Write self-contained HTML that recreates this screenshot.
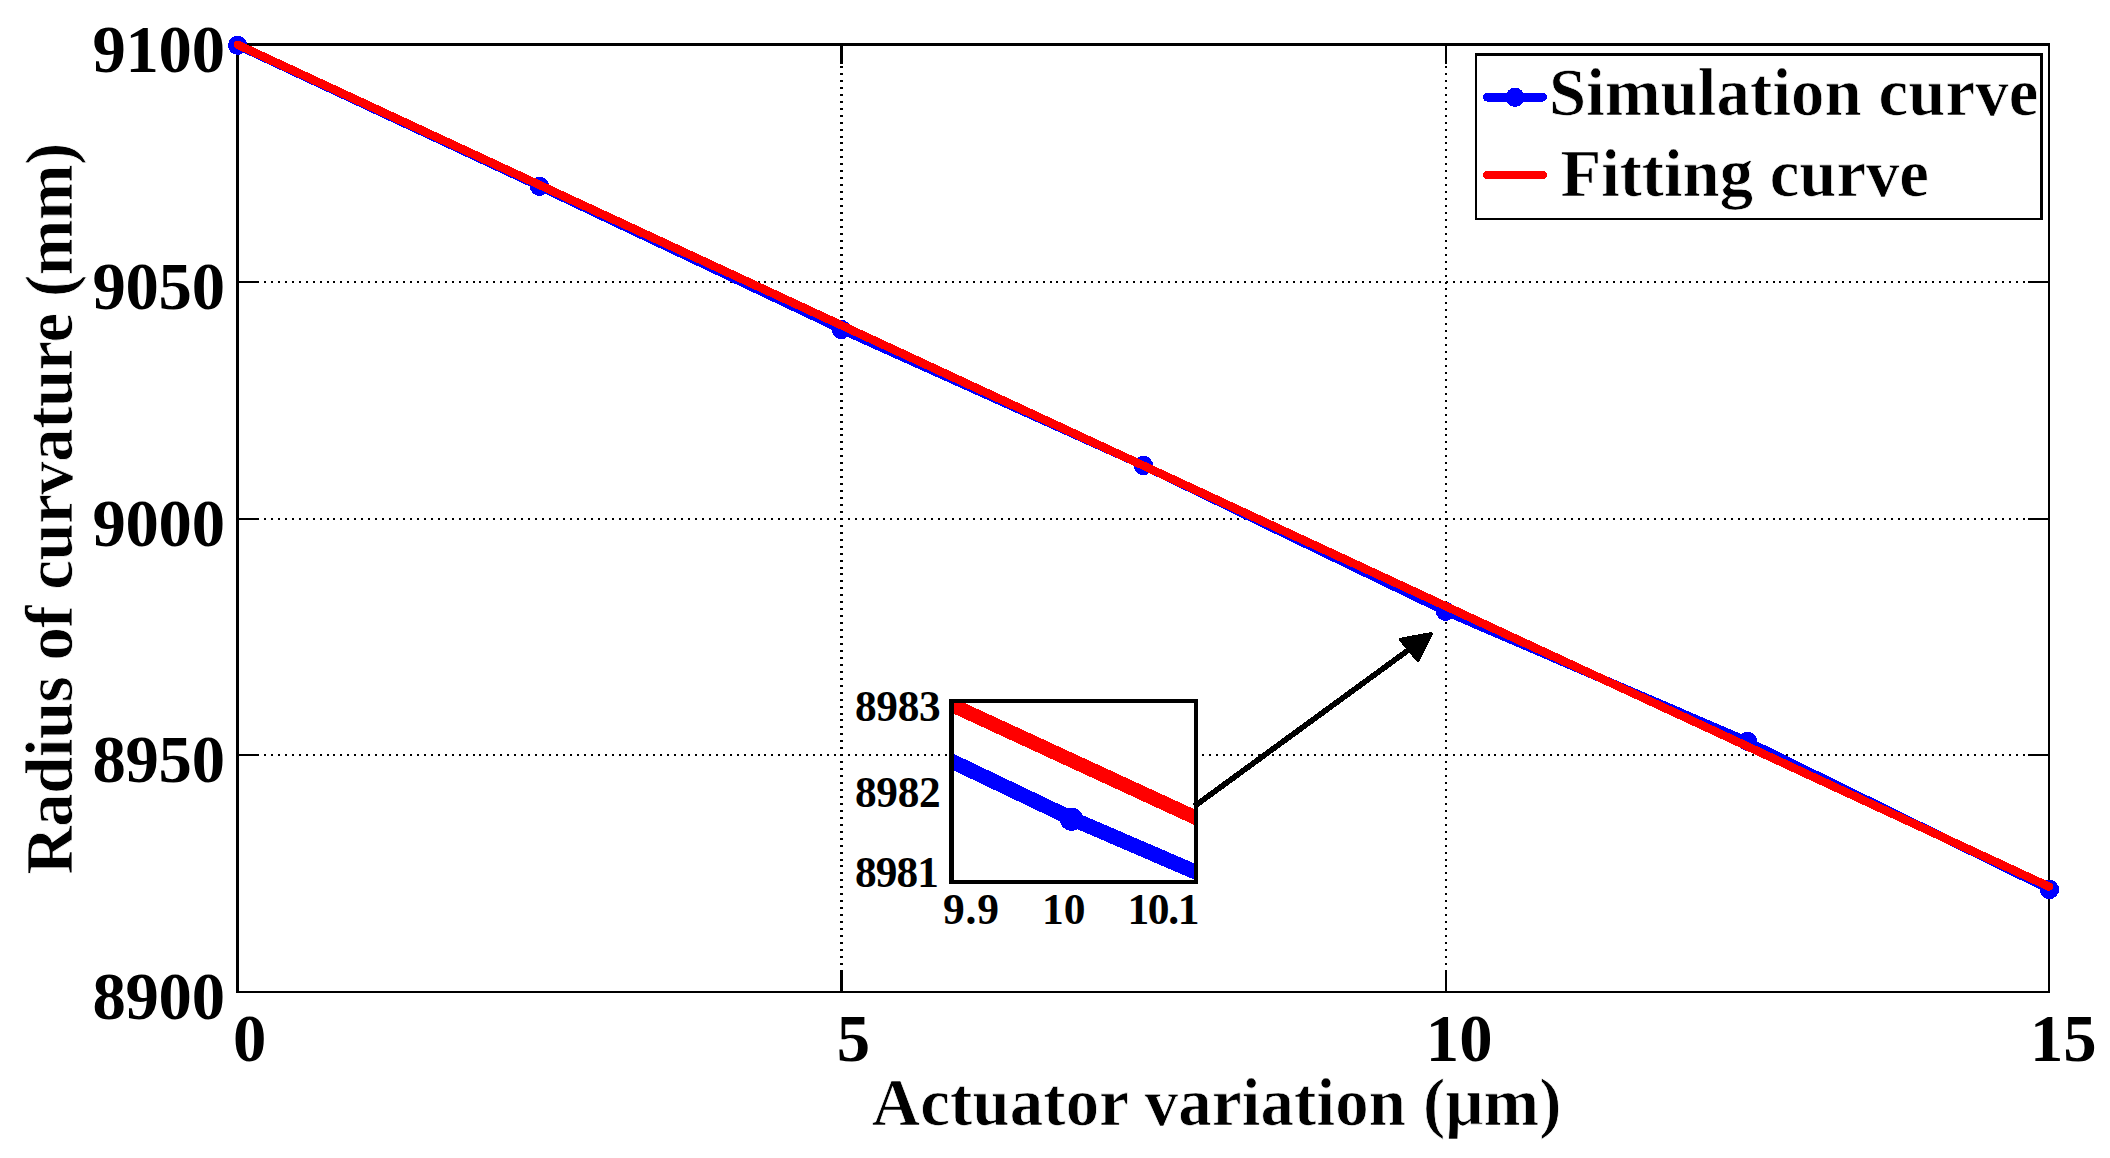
<!DOCTYPE html>
<html lang="en"><head><meta charset="utf-8"><title>Radius of curvature vs actuator variation</title>
<style>
html,body{margin:0;padding:0;background:#fff;}
body{width:2110px;height:1158px;overflow:hidden;}
svg{display:block;}
text{font-family:"Liberation Serif",serif;font-weight:bold;fill:#000;}
.lt{stroke:#fff;stroke-width:0.7;}
.grid{stroke:#000;stroke-dasharray:2 4.952;fill:none;shape-rendering:crispEdges;}
.ax{fill:#000;}
</style></head><body>
<svg width="2110" height="1158" viewBox="0 0 2110 1158">
<rect x="0" y="0" width="2110" height="1158" fill="#fff"/>
<!-- grid -->
<g>
<line x1="841.5" y1="66" x2="841.5" y2="969" class="grid" stroke-width="3"/>
<line x1="1446" y1="66" x2="1446" y2="969" class="grid" stroke-width="2"/>
<line x1="257" y1="282" x2="2027" y2="282" class="grid" stroke-width="2"/>
<line x1="257" y1="519" x2="2027" y2="519" class="grid" stroke-width="2"/>
<line x1="257" y1="755" x2="2027" y2="755" class="grid" stroke-width="2"/>
</g>
<!-- ticks -->
<g class="ax" shape-rendering="crispEdges">
<rect x="840" y="46" width="3" height="18"/><rect x="1445" y="46" width="2" height="18"/>
<rect x="840" y="970" width="3" height="21"/><rect x="1445" y="970" width="2" height="21"/>
<rect x="239" y="281" width="18" height="2"/><rect x="239" y="518" width="18" height="2"/><rect x="239" y="754" width="18" height="2"/>
<rect x="2028" y="281" width="20" height="2"/><rect x="2028" y="518" width="20" height="2"/><rect x="2028" y="754" width="20" height="2"/>
</g>
<!-- main axes box -->
<g class="ax" shape-rendering="crispEdges">
<rect x="236" y="43" width="1814" height="3"/>
<rect x="236" y="43" width="3" height="950"/>
<rect x="2048" y="43" width="2" height="950"/>
<rect x="236" y="991" width="1814" height="2"/>
</g>
<!-- data -->
<g shape-rendering="crispEdges">
<polyline points="237.6,45.3 539.5,186.4 841.4,329.5 1143.5,465.5 1445.5,611.4 1747.5,741.4 2049.5,889.5" fill="none" stroke="#0000ff" stroke-width="8.5" stroke-linejoin="round" stroke-linecap="round"/>
<circle cx="237.6" cy="45.3" r="9.6" fill="#0000ff"/><circle cx="539.5" cy="186.4" r="9.6" fill="#0000ff"/><circle cx="841.4" cy="329.5" r="9.6" fill="#0000ff"/><circle cx="1143.5" cy="465.5" r="9.6" fill="#0000ff"/><circle cx="1445.5" cy="611.4" r="9.6" fill="#0000ff"/><circle cx="1747.5" cy="741.4" r="9.6" fill="#0000ff"/><circle cx="2049.5" cy="889.5" r="9.6" fill="#0000ff"/>
<line x1="237.8" y1="44.7" x2="2049" y2="886.6" stroke="#ff0000" stroke-width="8.4" stroke-linecap="round"/>
<!-- legend -->
<g class="ax" shape-rendering="crispEdges">
<rect x="1475" y="53" width="568" height="167" fill="#fff"/>
<rect x="1475" y="53" width="568" height="3"/>
<rect x="1475" y="53" width="2" height="167"/>
<rect x="2040" y="53" width="3" height="167"/>
<rect x="1475" y="218" width="568" height="2"/>
</g>
<line x1="1487.3" y1="97.2" x2="1542.7" y2="97.2" stroke="#0000ff" stroke-width="8.8" stroke-linecap="round"/>
<circle cx="1515" cy="97.3" r="9.6" fill="#0000ff"/>
<line x1="1487.3" y1="175" x2="1542.7" y2="175" stroke="#ff0000" stroke-width="8.6" stroke-linecap="round"/>
<!-- inset -->
<rect x="949" y="699" width="249" height="185" fill="#fff"/>
<clipPath id="ic"><rect x="954" y="703" width="240" height="177"/></clipPath>
<g clip-path="url(#ic)">
<polyline points="836.5,706.1 954,762.3 1071.5,818.5 1194,871.4 1316.5,924.3" fill="none" stroke="#0000ff" stroke-width="15" stroke-linejoin="round"/>
<circle cx="1071.5" cy="819.3" r="11.6" fill="#0000ff"/>
<line x1="900" y1="681" x2="1250" y2="842.9" stroke="#ff0000" stroke-width="14.3"/>
</g>
<g class="ax" shape-rendering="crispEdges">
<rect x="949" y="699" width="249" height="4"/>
<rect x="949" y="699" width="5" height="185"/>
<rect x="1194" y="699" width="4" height="185"/>
<rect x="949" y="880" width="249" height="4"/>
</g>
<!-- arrow -->
<line x1="1194.5" y1="806.2" x2="1412" y2="647.4" stroke="#000" stroke-width="5.7"/>
<polygon points="1430.9,634.1 1401,639.7 1417.8,659.8" fill="#000" stroke="#000" stroke-width="4" stroke-linejoin="round"/>
</g>
<!-- text -->
<text id="yt0" x="92.5" y="72.2" font-size="66.7" letter-spacing="-0.3" text-anchor="start" >9100</text>
<text id="yt1" x="92.5" y="309.3" font-size="66.7" letter-spacing="-0.3" text-anchor="start" >9050</text>
<text id="yt2" x="92.5" y="546.4" font-size="66.7" letter-spacing="-0.3" text-anchor="start" >9000</text>
<text id="yt3" x="92.5" y="782.4" font-size="66.7" letter-spacing="-0.3" text-anchor="start" >8950</text>
<text id="yt4" x="92.5" y="1019.2" font-size="66.7" letter-spacing="-0.3" text-anchor="start" >8900</text>
<text id="xt0" x="233.0" y="1060.6" font-size="66.7" letter-spacing="0" text-anchor="start" >0</text>
<text id="xt1" x="836.8" y="1060.6" font-size="66.7" letter-spacing="0" text-anchor="start" >5</text>
<text id="xt2" x="1425.8" y="1060.6" font-size="66.7" letter-spacing="0" text-anchor="start" >10</text>
<text id="xt3" x="2030.0" y="1060.6" font-size="66.7" letter-spacing="0" text-anchor="start" >15</text>
<text id="xlab" x="871.8" y="1124.6" font-size="66.7" letter-spacing="0.22" text-anchor="start" class="lt">Actuator variation (μm)</text>
<text id="ylab" x="0" y="0" font-size="66.7" letter-spacing="-0.43" text-anchor="start" class="lt" transform="translate(72.2 874.4) rotate(-90)">Radius of curvature (mm)</text>
<text id="leg1" x="1549" y="114.9" font-size="66.7" letter-spacing="0.15" text-anchor="start" class="lt">Simulation curve</text>
<text id="leg2" x="1560.4" y="195.8" font-size="66.7" letter-spacing="0.0" text-anchor="start" class="lt">Fitting curve</text>
<text id="iy0" x="855.0" y="720.6" font-size="43.3" letter-spacing="-0.3" text-anchor="start" >8983</text>
<text id="iy1" x="855.0" y="807.4" font-size="43.3" letter-spacing="-0.3" text-anchor="start" >8982</text>
<text id="iy2" x="855.0" y="887.1" font-size="43.3" letter-spacing="-0.9" text-anchor="start" >8981</text>
<text id="ix0" x="943.0" y="924.0" font-size="43.5" letter-spacing="0.85" text-anchor="start" >9.9</text>
<text id="ix1" x="1042.0" y="924.0" font-size="43.5" letter-spacing="0" text-anchor="start" >10</text>
<text id="ix2" x="1127.5" y="924.0" font-size="43.5" letter-spacing="-1.4" text-anchor="start" >10.1</text>
</svg>
</body></html>
